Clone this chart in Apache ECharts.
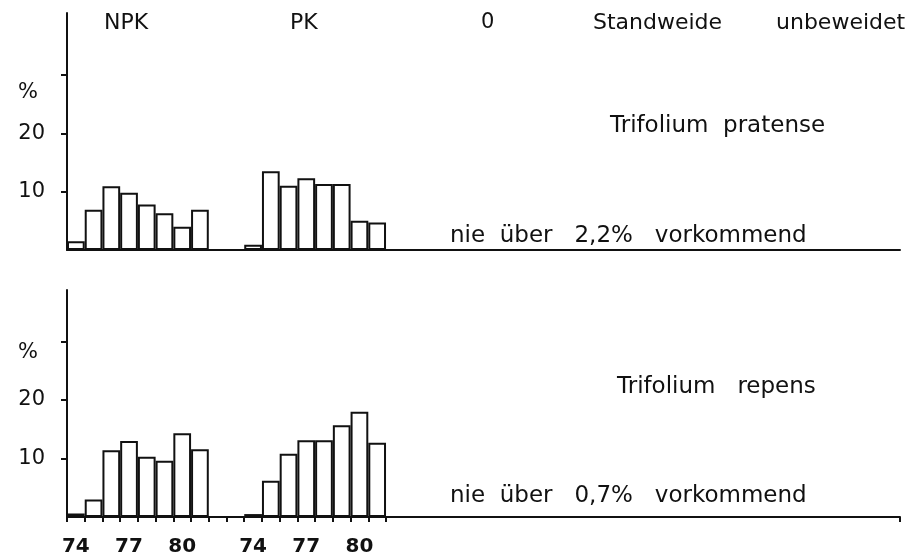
<!DOCTYPE html>
<html>
<head>
    <meta charset="utf-8"/>
    <title>Trifolium</title>
    <script src="https://cdn.jsdelivr.net/npm/echarts@6/dist/echarts.min.js"></script>
    <style>
        body { margin: 0; background: #fff; }
        #main { width: 917px; height: 560px; }
    </style>
</head>
<body>
    <div id="main"></div>
    <script type="text/javascript">
        // 年份 (1974-1981)
        var years = ['74', '75', '76', '77', '78', '79', '80', '81'];
        var shownYears = ['74', '77', '80'];
        // Trifolium pratense, Anteil in %
        var pratenseNPK = [1.5, 6.9, 10.9, 9.8, 7.8, 6.3, 4.0, 6.9];
        var pratensePK = [0.9, 13.5, 11.0, 12.3, 11.3, 11.3, 5.0, 4.7];
        // Trifolium repens, Anteil in %
        var repensNPK = [0.6, 3.0, 11.4, 13.0, 10.3, 9.6, 14.3, 11.6];
        var repensPK = [0.5, 6.2, 10.8, 13.1, 13.1, 15.7, 18.0, 12.7];
        var groupNames = ['NPK', 'PK', '0', 'Standweide', 'unbeweidet'];
        var yTicks = [10, 20, 30];
        var yLabels = [10, 20];

        // 类目: NPK 8 年, 2 个空位, PK 8 年, 其余空位
        var cats = [];
        years.forEach(function (y) { cats.push('NPK-' + y); });
        cats.push('gap-0', 'gap-1');
        years.forEach(function (y) { cats.push('PK-' + y); });
        for (var i = 0; i < 29; i++) cats.push('rest-' + i);

        function fill(a, b) {
            var out = cats.map(function () { return null; });
            for (var i = 0; i < a.length; i++) out[i] = a[i];
            for (var j = 0; j < b.length; j++) out[10 + j] = b[j];
            return out;
        }

        var font = 'DejaVu Sans';
        var black = '#111';

        function xAxis(idx, showLabels) {
            return {
                type: 'category',
                gridIndex: idx,
                data: cats,
                boundaryGap: true,
                axisLine: { lineStyle: { color: black, width: 2 } },
                axisTick: {
                    show: showLabels,
                    length: 5,
                    interval: function (i) { return i <= 18; },
                    lineStyle: { color: black, width: 2 }
                },
                axisLabel: {
                    show: showLabels,
                    interval: 0,
                    margin: 20,
                    fontFamily: font,
                    fontSize: 20,
                    fontWeight: 'bold',
                    color: black,
                    formatter: function (v) {
                        var y = v.split('-')[1];
                        if ((v.indexOf('NPK') === 0 || v.indexOf('PK') === 0) && shownYears.indexOf(y) >= 0) return y;
                        return '';
                    }
                },
                splitLine: { show: false }
            };
        }

        function yAxis(idx, max) {
            return {
                type: 'value',
                gridIndex: idx,
                min: 0,
                max: max,
                axisLine: { show: true, lineStyle: { color: black, width: 2 } },
                axisTick: { show: true, length: 6, customValues: yTicks, lineStyle: { color: black, width: 2 } },
                axisLabel: {
                    customValues: yLabels,
                    margin: 22,
                    fontFamily: font,
                    fontSize: 21,
                    fontWeight: 500,
                    color: black
                },
                splitLine: { show: false }
            };
        }

        function bars(idx, data) {
            return {
                type: 'bar',
                xAxisIndex: idx,
                yAxisIndex: idx,
                data: data,
                barCategoryGap: '0%',
                itemStyle: { color: '#fff', borderColor: black, borderWidth: 2 },
                silent: true
            };
        }

        function txt(x, y, s, size) {
            return {
                type: 'text',
                left: x, top: y,
                style: {
                    text: s,
                    fontFamily: font,
                    fontSize: size || 21,
                    fill: black
                }
            };
        }

        var myChart = echarts.init(document.getElementById('main'));
        var option = {
            animation: false,
            backgroundColor: '#fff',
            grid: [
                { left: 67, right: 17, top: 13, height: 237 },
                { left: 67, right: 17, top: 290, height: 227 }
            ],
            xAxis: [xAxis(0, false), xAxis(1, true)],
            yAxis: [yAxis(0, 40.6), yAxis(1, 38.8)],
            series: [
                bars(0, fill(pratenseNPK, pratensePK)),
                bars(1, fill(repensNPK, repensPK))
            ],
            graphic: [
                txt(104, 12, groupNames[0], 22),
                txt(290, 12, groupNames[1], 22),
                txt(481, 12, groupNames[2], 21),
                txt(593, 12, groupNames[3], 22),
                txt(776, 12, groupNames[4], 22),
                txt(18, 82, '%', 21),
                txt(18, 342, '%', 21),
                txt(610, 115, 'Trifolium  pratense', 23),
                txt(450, 225, 'nie  über   2,2%   vorkommend', 23),
                txt(617, 376, 'Trifolium   repens', 23),
                txt(450, 485, 'nie  über   0,7%   vorkommend', 23)
            ]
        };
        myChart.setOption(option);
    </script>
</body>
</html>
